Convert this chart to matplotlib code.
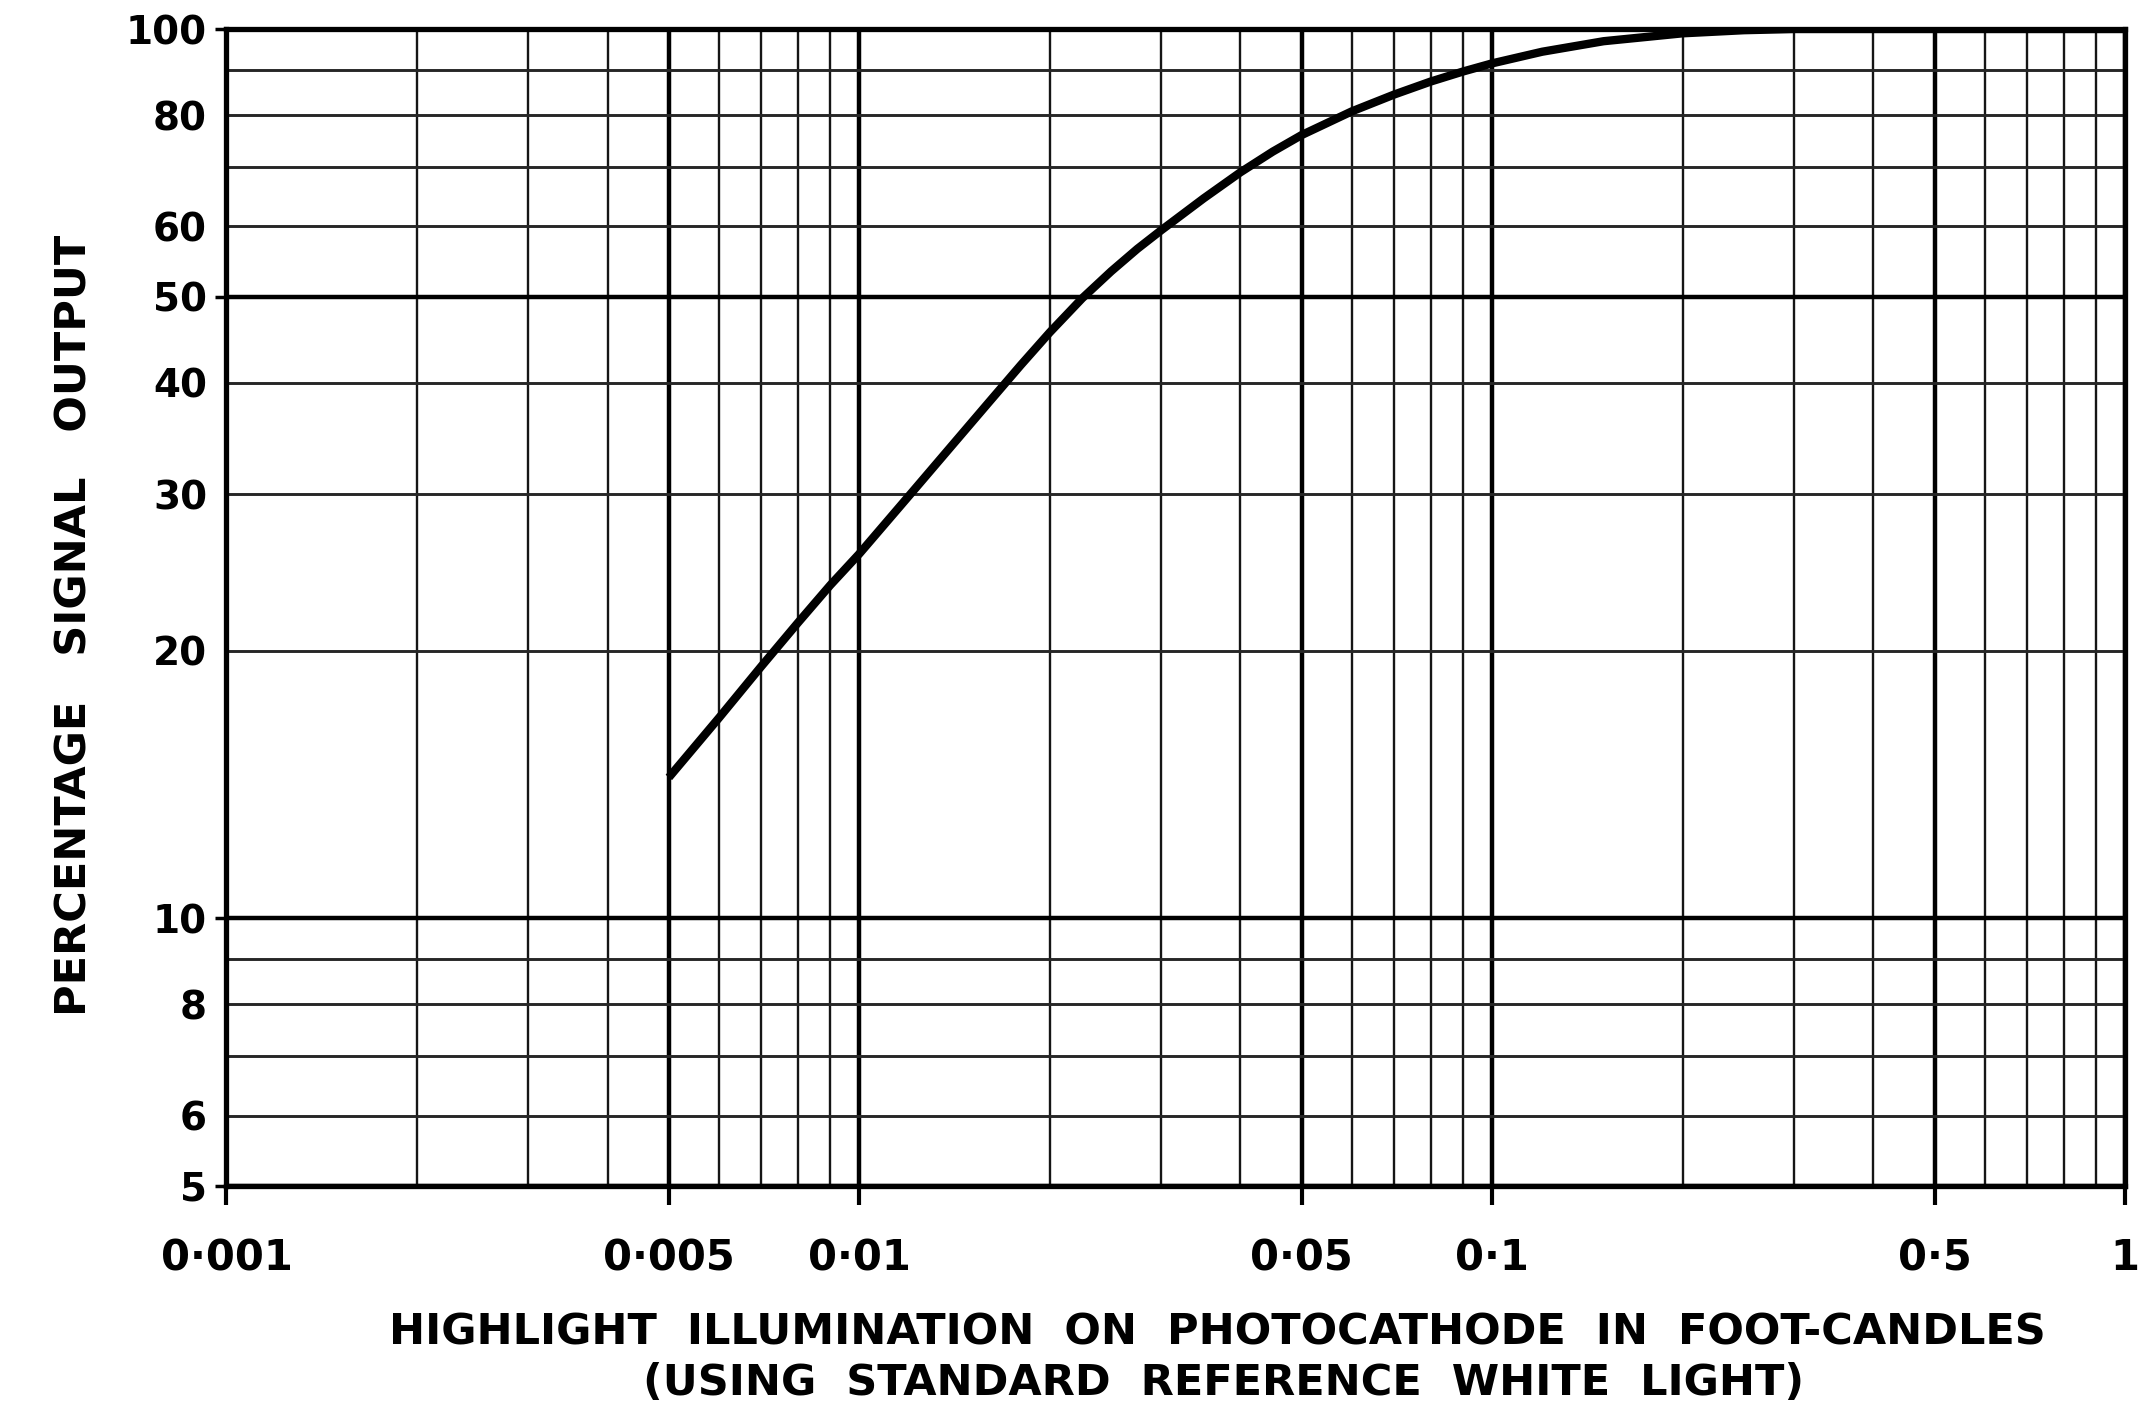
import matplotlib
matplotlib.use("Agg")
import matplotlib.pyplot as plt
from matplotlib.ticker import FixedLocator, FixedFormatter, NullFormatter

# signal output of the camera tube against highlight illumination
illumination = [0.005, 0.006, 0.007, 0.008, 0.009, 0.010, 0.012, 0.014, 0.016, 0.018,
                0.020, 0.0225, 0.025, 0.0275, 0.030, 0.035, 0.040, 0.045, 0.050, 0.060,
                0.070, 0.080, 0.090, 0.100, 0.120, 0.150, 0.200, 0.250, 0.300, 1.0]
signal_pct = [14.4, 16.8, 19.2, 21.5, 23.7, 25.7, 29.9, 34.0, 38.0, 41.9,
              45.6, 49.8, 53.4, 56.6, 59.4, 64.5, 69.0, 72.8, 76.0, 80.8,
              84.4, 87.3, 89.6, 91.5, 94.3, 96.9, 98.9, 99.7, 100.0, 100.0]

x_major = [0.001, 0.005, 0.01, 0.05, 0.1, 0.5, 1]
x_labels = ["0·001", "0·005", "0·01", "0·05", "0·1", "0·5", "1"]
x_minor = [0.002, 0.003, 0.004, 0.006, 0.007, 0.008, 0.009,
           0.02, 0.03, 0.04, 0.06, 0.07, 0.08, 0.09,
           0.2, 0.3, 0.4, 0.6, 0.7, 0.8, 0.9]

y_major = [5, 10, 50, 100]
y_major_labels = ["5", "10", "50", "100"]
y_minor = [6, 7, 8, 9, 20, 30, 40, 60, 70, 80, 90]
y_minor_labels = ["6", "", "8", "", "20", "30", "40", "60", "", "80", ""]

plt.rcParams["font.family"] = "DejaVu Sans"
plt.rcParams["font.weight"] = "bold"

fig = plt.figure(figsize=(21.53, 14.10), dpi=100)
ax = fig.add_axes([0.1052, 0.1589, 0.8818, 0.8205])
ax.set_xscale("log")
ax.set_yscale("log")
ax.set_xlim(0.001, 1)
ax.set_ylim(5, 100)

ax.xaxis.set_major_locator(FixedLocator(x_major))
ax.xaxis.set_major_formatter(FixedFormatter(x_labels))
ax.xaxis.set_minor_locator(FixedLocator(x_minor))
ax.xaxis.set_minor_formatter(NullFormatter())

ax.yaxis.set_major_locator(FixedLocator(y_major))
ax.yaxis.set_major_formatter(FixedFormatter(y_major_labels))
ax.yaxis.set_minor_locator(FixedLocator(y_minor))
ax.yaxis.set_minor_formatter(FixedFormatter(y_minor_labels))

# graph-paper style grid: heavy rules on the labelled values
ax.grid(which="major", axis="x", color="k", lw=3.2)
ax.grid(which="minor", axis="x", color="#151515", lw=1.7)
ax.grid(which="major", axis="y", color="k", lw=3.2)
ax.grid(which="minor", axis="y", color="#262626", lw=2.1)
ax.set_axisbelow(True)

ax.plot(illumination, signal_pct, color="k", lw=6, solid_capstyle="butt",
        solid_joinstyle="round")

for s in ax.spines.values():
    s.set_linewidth(3.8)

ax.tick_params(axis="x", which="major", direction="out", length=14, width=3,
               pad=23, labelsize=30)
ax.tick_params(axis="x", which="minor", length=0)
ax.tick_params(axis="y", which="major", direction="out", length=8, width=2.5,
               pad=6, labelsize=28)
ax.tick_params(axis="y", which="minor", length=0, pad=14, labelsize=28)

fig.text(0.5653, 0.0553,
         "HIGHLIGHT  ILLUMINATION  ON  PHOTOCATHODE  IN  FOOT-CANDLES",
         ha="center", va="center", fontsize=31)
fig.text(0.5685, 0.0191, "(USING  STANDARD  REFERENCE  WHITE  LIGHT)",
         ha="center", va="center", fontsize=31)
fig.text(0.0348, 0.5567, "PERCENTAGE   SIGNAL   OUTPUT", rotation=90,
         ha="center", va="center", fontsize=31)

fig.savefig("out.png", dpi=100)
